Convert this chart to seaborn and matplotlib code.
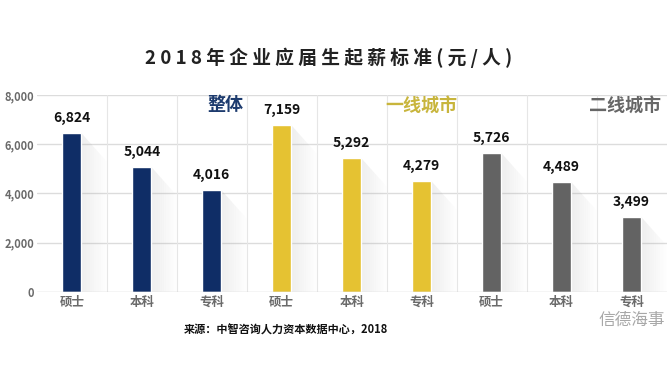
import numpy as np
import pandas as pd
import seaborn as sns
import matplotlib.pyplot as plt

# data
groups = ["整体"] * 3 + ["一线城市"] * 3 + ["二线城市"] * 3
degrees = ["硕士", "本科", "专科"] * 3
bar_heights = [6460, 5080, 4140, 6780, 5440, 4510, 5650, 4470, 3050]
value_labels = [6824, 5044, 4016, 7159, 5292, 4279, 5726, 4489, 3499]
group_names = ["整体", "一线城市", "二线城市"]
group_colors = ["#0f2d66", "#e5c232", "#636363"]
label_colors = ["#1d3b6e", "#c8b53c", "#666666"]

df = pd.DataFrame({
    "key": [f"{g}-{d}" for g, d in zip(groups, degrees)],
    "group": groups,
    "degree": degrees,
    "height": bar_heights,
})

sns.set_style("white")
plt.rcParams['font.family'] = ['Noto Sans CJK SC', 'DejaVu Sans']

fig = plt.figure(figsize=(6.7, 3.8), dpi=100)
ax = fig.add_axes([0.055, 0.232, 0.94, 0.518])

# soft diagonal shadows behind the bars
bw = 0.27
for i, h in enumerate(bar_heights):
    x0 = i + bw / 2
    steps = 12
    for k in range(steps):
        xa = x0 + 0.36 * k / steps
        xb = x0 + 0.36 * (k + 1) / steps
        ya = h - 1150 * k / steps
        yb = h - 1150 * (k + 1) / steps
        ax.fill([xa, xb, xb, xa], [ya, yb, 0, 0], color="#9a9a9a",
                alpha=0.16 * (1 - k / steps), lw=0, zorder=1)

sns.barplot(data=df, x="key", y="height", hue="group", hue_order=group_names,
            palette=group_colors, dodge=False, width=bw, legend=False,
            saturation=1, ax=ax, zorder=2)

for i, (h, v) in enumerate(zip(bar_heights, value_labels)):
    ax.text(i, h + 330, f"{v:,}", ha="center", va="bottom", fontsize=10,
            fontweight="bold", color="#111111")

ax.set_xlim(-0.5, 8.5)
ax.set_ylim(0, 8000)
ax.set_yticks(range(0, 8001, 2000))
ax.set_yticklabels([f"{t:,}" for t in range(0, 8001, 2000)])
ax.set_xticks(range(9))
ax.set_xticklabels(degrees)
ax.set_xlabel("")
ax.set_ylabel("")
ax.tick_params(axis="both", length=0, colors="#6a6a6a")
ax.tick_params(axis="y", pad=2, labelsize=8)
ax.tick_params(axis="x", pad=3, labelsize=9)
for lab in ax.get_yticklabels() + ax.get_xticklabels():
    lab.set_fontweight("bold")

# grid
for y in range(2000, 8001, 2000):
    ax.axhline(y, color="#dcdcdc", lw=1, zorder=0)
for x in np.arange(0.5, 8.5, 1):
    ax.axvline(x, color="#e6e6e6", lw=0.8, zorder=0)
for s in ax.spines.values():
    s.set_visible(False)
ax.axhline(0, color="#cfcfcf", lw=1, zorder=3)

# group labels
for gx, name, c in zip([2.2, 5.0, 7.9], group_names, label_colors):
    ax.text(gx, 7600, name, ha="center", va="center", fontsize=13,
            fontweight="bold", color=c)

fig.text(0.49, 0.848, "2 0 1 8 年 企 业 应 届 生 起 薪 标 准 ( 元 / 人 )",
         ha="center", va="center", fontsize=13.5, fontweight="bold", color="#222222")
fig.text(0.427, 0.132, "来源：中智咨询人力资本数据中心，2018", ha="center", va="center",
         fontsize=8, fontweight="bold", color="#111111")
fig.text(0.993, 0.158, "信德海事", ha="right", va="center", fontsize=12,
         color="#a8a8a8")

fig.savefig("out.png", dpi=100)
